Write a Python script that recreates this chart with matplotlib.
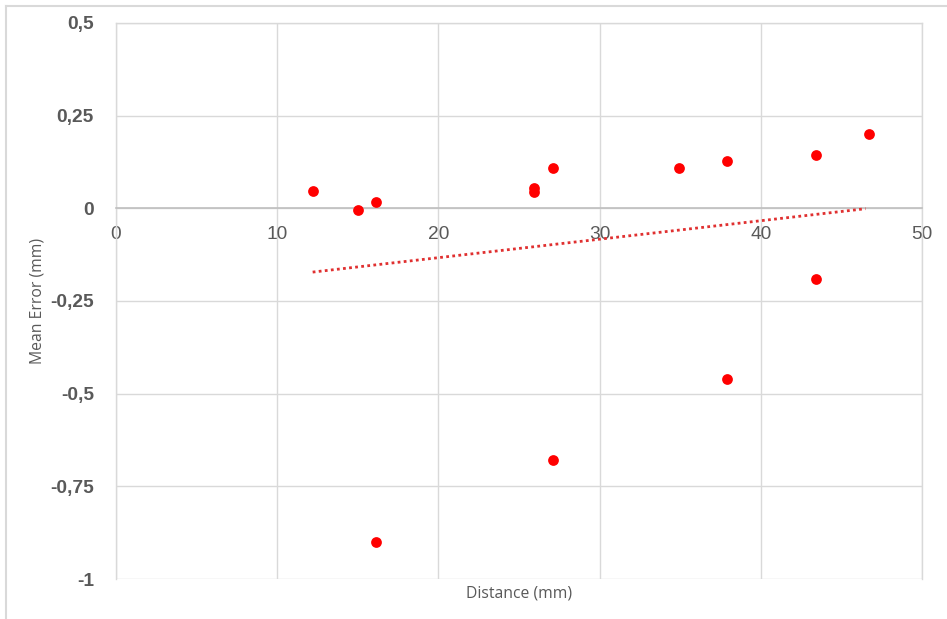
import numpy as np
import matplotlib
matplotlib.use('Agg')
import matplotlib.pyplot as plt
from matplotlib.lines import Line2D

# data
distance = [12.2, 15.0, 16.1, 16.1, 25.9, 25.9, 27.1, 27.1, 34.9, 37.9, 37.9, 43.4, 43.4, 46.7]
mean_error = [0.047, -0.005, 0.017, -0.90, 0.055, 0.045, 0.110, -0.68, 0.110, 0.128, -0.46, 0.145, -0.19, 0.200]

trend_x = [12.2, 46.5]
trend_y = [-0.172, -0.001]

x_ticks = [0, 10, 20, 30, 40, 50]
y_ticks = [-1, -0.75, -0.5, -0.25, 0, 0.25, 0.5]
y_labels = ['-1', '-0,75', '-0,5', '-0,25', '0', '0,25', '0,5']

grey_txt = '#595959'
grid_c = '#d9d9d9'

plt.rcParams['font.family'] = ['Liberation Sans', 'DejaVu Sans']

fig = plt.figure(figsize=(9.47, 6.19), dpi=100)
ax = fig.add_axes([116 / 947, 1 - 579 / 619, (922 - 116) / 947, (579 - 23) / 619])

ax.scatter(distance, mean_error, s=60, color='#ff0000', zorder=4, linewidths=0)
ax.plot(trend_x, trend_y, color='#e03030', lw=2, ls=(0, (1, 1.2)), zorder=3)

# x axis sits on y=0 (do this before styling ticks, it resets them)
for s in ['top', 'left', 'right']:
    ax.spines[s].set_color(grid_c)
    ax.spines[s].set_linewidth(1)
ax.spines['bottom'].set_position(('data', 0))
ax.spines['bottom'].set_color('#bfbfbf')
ax.spines['bottom'].set_linewidth(1.2)

ax.set_xlim(0, 50)
ax.set_ylim(-1, 0.5)
ax.set_xticks(x_ticks)
ax.set_yticks(y_ticks)
ax.set_yticklabels(y_labels, fontweight='bold', fontsize=13.8, color=grey_txt)
ax.set_xticklabels([str(t) for t in x_ticks], fontsize=13.8, color=grey_txt)
ax.tick_params(axis='both', length=0)
ax.tick_params(axis='y', pad=16)
ax.tick_params(axis='x', pad=13)
ax.grid(True, color=grid_c, lw=1)
ax.set_axisbelow(True)

fig.text(37 / 947, 1 - 301 / 619, 'Mean Error (mm)', rotation=90, ha='center', va='center',
         fontsize=11.3, color=grey_txt, family=['Open Sans', 'DejaVu Sans'])
fig.text(519 / 947, 1 - 594 / 619, 'Distance (mm)', ha='center', va='center',
         fontsize=11.3, color=grey_txt, family=['Open Sans', 'DejaVu Sans'])

# outer frame of the chart object
fig.add_artist(Line2D([6 / 947, 1], [1 - 6 / 619, 1 - 6 / 619], color=grid_c, lw=1.5, transform=fig.transFigure))
fig.add_artist(Line2D([6 / 947, 6 / 947], [0, 1 - 6 / 619], color=grid_c, lw=1.5, transform=fig.transFigure))

fig.savefig('out.png', dpi=100)
